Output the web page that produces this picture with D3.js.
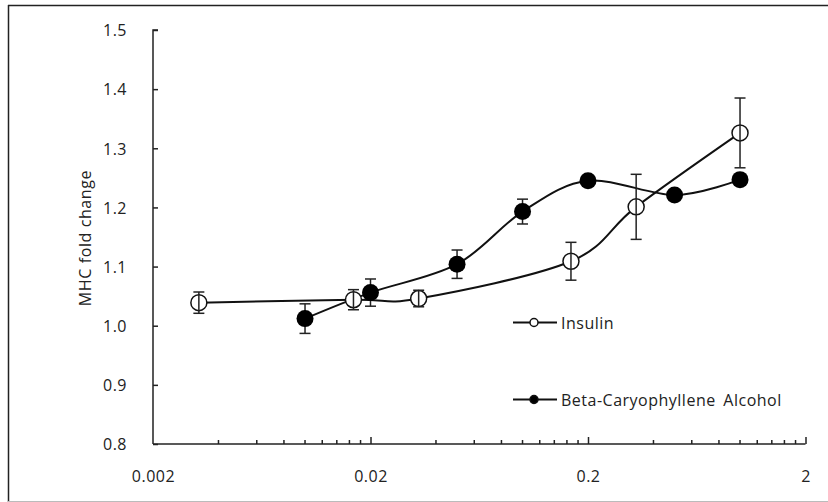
<!DOCTYPE html>
<html>
<head>
<meta charset="utf-8">
<script src="https://cdn.jsdelivr.net/npm/d3@7"></script>
<style>
  body { margin: 0; background: #fff; }
  text { font-family: "Open Sans", "Noto Sans", sans-serif; fill: #222; }
</style>
</head>
<body>
<div id="chart"></div>
<script>
// Données
const insulinDose = [0.00325, 0.0167, 0.0333, 0.167, 0.333, 1.0];
const insulinMean = [1.039, 1.044, 1.046, 1.109, 1.201, 1.326];
const insulinErr = [0.018, 0.017, 0.014, 0.032, 0.055, 0.059];

const bcaDose = [0.01, 0.02, 0.05, 0.1, 0.2, 0.5, 1.0];
const bcaMean = [1.012, 1.056, 1.104, 1.193, 1.245, 1.221, 1.247];
const bcaErr = [0.025, 0.023, 0.024, 0.021, 0, 0, 0];

const yTicks = [0.8, 0.9, 1.0, 1.1, 1.2, 1.3, 1.4, 1.5];
const xTicks = [0.002, 0.02, 0.2, 2];
const seriesNames = ["Insulin", "Beta-Caryophyllene Alcohol"];

//---------------------------------------------------------------------------------------

const width = 828;
const height = 502;

const svg = d3.select("#chart")
    .append("svg")
    .attr("width", width)
    .attr("height", height);

// Cadre
svg.append("line").attr("x1", 8).attr("x2", 828).attr("y1", 5.5).attr("y2", 5.5)
    .attr("stroke", "#222").attr("stroke-width", 1.5);
svg.append("line").attr("x1", 8.5).attr("x2", 8.5).attr("y1", 5).attr("y2", 502)
    .attr("stroke", "#222").attr("stroke-width", 1.5);
svg.append("line").attr("x1", 8).attr("x2", 828).attr("y1", 501.5).attr("y2", 501.5)
    .attr("stroke", "#bbb").attr("stroke-width", 1);

// Échelles
const x = d3.scaleLog().domain([0.002, 2]).range([153, 805.5]);
const y = d3.scaleLinear().domain([0.8, 1.5]).range([444, 30]);

const fontSize = "16px";

// Axe Y
const yAxis = svg.append("g")
    .attr("transform", `translate(${x.range()[0]},0)`)
    .call(d3.axisRight(y).tickValues(yTicks).tickSize(5).tickFormat(d3.format(".1f")));
yAxis.select(".domain").attr("stroke", "#222").attr("stroke-width", 1.5).attr("d", `M5,${y(1.5)}H0V${y(0.8)}`);
yAxis.selectAll(".tick line").attr("stroke", "#222").attr("stroke-width", 1.5);
yAxis.selectAll(".tick text")
    .attr("x", -26)
    .attr("dy", "0.36em")
    .attr("text-anchor", "end")
    .attr("font-size", fontSize)
    .attr("letter-spacing", "0.5px")
    .attr("fill", "#222");

// Axe X : ticks mineurs
const minorTicks = [];
[0.002, 0.02, 0.2].forEach(base => {
    for (let k = 2; k <= 9; k++) minorTicks.push(base * k);
});

svg.append("g")
    .selectAll("line")
    .data(minorTicks)
    .join("line")
    .attr("x1", d => x(d)).attr("x2", d => x(d))
    .attr("y1", y(0.8) - 4).attr("y2", y(0.8))
    .attr("stroke", "#222").attr("stroke-width", 1.5);

const xAxis = svg.append("g")
    .attr("transform", `translate(0,${y(0.8)})`)
    .call(d3.axisTop(x).tickValues(xTicks).tickSize(7).tickFormat(d => String(d)));
xAxis.select(".domain").attr("stroke", "#222").attr("stroke-width", 1.5).attr("d", `M${x(0.002)},0H${x(2)}`);
xAxis.selectAll(".tick line").attr("stroke", "#222").attr("stroke-width", 1.5);
xAxis.selectAll(".tick text")
    .attr("y", 38)
    .attr("font-size", fontSize)
    .attr("letter-spacing", "0.5px")
    .attr("fill", "#222");
xAxis.selectAll(".tick").filter(d => d === 0.002).select("line").remove();

// Titre axe Y
svg.append("text")
    .attr("transform", `translate(91, ${(y(1.5) + y(0.8)) / 2 + 1}) rotate(-90)`)
    .attr("text-anchor", "middle")
    .attr("font-size", fontSize)
    .attr("letter-spacing", "0.6px")
    .text("MHC fold change");

//---------------------------------------------------------------------------------------

// Séries
const insulin = insulinDose.map((d, i) => ({ dose: d, mean: insulinMean[i], err: insulinErr[i] }));
const bca = bcaDose.map((d, i) => ({ dose: d, mean: bcaMean[i], err: bcaErr[i] }));

const line = d3.line()
    .x(d => x(d.dose))
    .y(d => y(d.mean))
    .curve(d3.curveCardinal.tension(0));

[insulin, bca].forEach(series => {
    svg.append("path")
        .datum(series)
        .attr("fill", "none")
        .attr("stroke", "#111")
        .attr("stroke-width", 2)
        .attr("d", line);
});

// Barres d'erreur
function drawErrors(series) {
    const g = svg.append("g").attr("stroke", "#222").attr("stroke-width", 1.5);
    const withErr = series.filter(d => d.err > 0);
    g.selectAll(".v").data(withErr).join("line")
        .attr("x1", d => x(d.dose)).attr("x2", d => x(d.dose))
        .attr("y1", d => y(d.mean + d.err)).attr("y2", d => y(d.mean - d.err));
    g.selectAll(".top").data(withErr).join("line")
        .attr("x1", d => x(d.dose) - 5.5).attr("x2", d => x(d.dose) + 5.5)
        .attr("y1", d => y(d.mean + d.err)).attr("y2", d => y(d.mean + d.err));
    g.selectAll(".bot").data(withErr).join("line")
        .attr("x1", d => x(d.dose) - 5.5).attr("x2", d => x(d.dose) + 5.5)
        .attr("y1", d => y(d.mean - d.err)).attr("y2", d => y(d.mean - d.err));
}

// Insulin : cercles vides, barres d'erreur dessinées par-dessus
svg.append("g")
    .selectAll("circle")
    .data(insulin)
    .join("circle")
    .attr("cx", d => x(d.dose))
    .attr("cy", d => y(d.mean))
    .attr("r", 8)
    .attr("fill", "#fff")
    .attr("stroke", "#111")
    .attr("stroke-width", 1.5);
drawErrors(insulin);

// BCA : cercles pleins
drawErrors(bca);
svg.append("g")
    .selectAll("circle")
    .data(bca)
    .join("circle")
    .attr("cx", d => x(d.dose))
    .attr("cy", d => y(d.mean))
    .attr("r", 8.5)
    .attr("fill", "#000");

//---------------------------------------------------------------------------------------

// Légende
const legend = svg.selectAll(".legend")
    .data(seriesNames)
    .join("g")
    .attr("class", "legend")
    .attr("transform", (d, i) => `translate(513, ${322.5 + i * 77})`);

legend.append("line")
    .attr("x1", 0).attr("x2", 44)
    .attr("stroke", "#111").attr("stroke-width", 2);

legend.append("circle")
    .attr("cx", 21).attr("r", 4)
    .attr("fill", (d, i) => i === 0 ? "#fff" : "#000")
    .attr("stroke", "#111").attr("stroke-width", 1.5);

legend.append("text")
    .attr("x", 48)
    .attr("y", 6)
    .attr("font-size", fontSize)
    .attr("letter-spacing", "0.5px")
    .attr("word-spacing", "3px")
    .text(d => d);
</script>
</body>
</html>
